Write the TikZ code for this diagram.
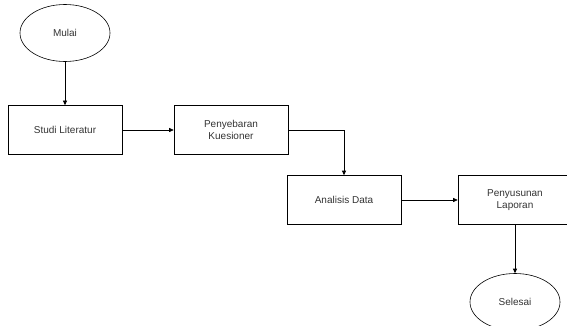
\documentclass[tikz,border=0pt]{standalone}
\usepackage{fontspec}
\setmainfont{Liberation Sans}
\usepackage{tikz}
\usetikzlibrary{arrows.meta, shapes.geometric}

\begin{document}
\begin{tikzpicture}[
  x=1pt, y=-1pt,
  every node/.style={draw, font=\fontsize{10}{12}\selectfont, text=black!80, align=center},
  terminal/.style={ellipse, minimum width=90pt, minimum height=57pt, inner sep=0pt},
  proses/.style={rectangle, minimum width=114pt, minimum height=49pt, inner sep=0pt},
  ->, >={Triangle[length=4.5pt,width=4pt]}, semithick
]
  \useasboundingbox (0,0) rectangle (567,326);
  \clip (0,0) rectangle (567,326);
  \node[terminal] (mulai)  at (65,33)   {Mulai};
  \node[proses]   (studi)  at (65,130)  {Studi Literatur};
  \node[proses]   (sebar)  at (231,130) {Penyebaran\\Kuesioner};
  \node[proses]   (analis) at (344,200) {Analisis Data};
  \node[proses]   (susun)  at (515,200) {Penyusunan\\Laporan};
  \node[terminal] (selesai) at (515,302) {Selesai};

  \draw (mulai) -- (studi);
  \draw (studi) -- (sebar);
  \draw (sebar.east) -| (analis.north);
  \draw (analis) -- (susun);
  \draw (susun) -- (selesai);
\end{tikzpicture}
\end{document}
